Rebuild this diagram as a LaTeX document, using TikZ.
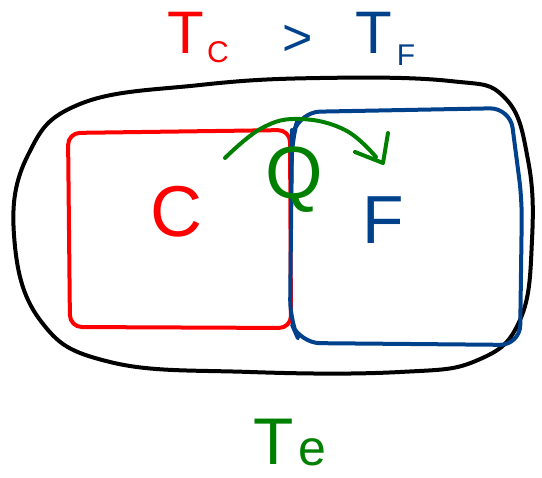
\documentclass[tikz,border=0pt]{standalone}
\usepackage{fontspec}
\setmainfont{Liberation Sans}
\definecolor{pred}{RGB}{255,0,0}
\definecolor{pblue}{RGB}{0,65,140}
\definecolor{pgreen}{RGB}{0,128,0}
\begin{document}
\begin{tikzpicture}[x=1pt,y=-1pt,
  pen/.style={line width=4pt,line cap=round,line join=round},
  lbl/.style={inner sep=0pt}]
\useasboundingbox (0,0) rectangle (542,478);
% outer environment
\draw[pen,black] plot[smooth cycle,tension=0.7] coordinates {
  (14,235) (28,155) (80,104) (200,85) (320,78) (450,81) (505,98)
  (528,160) (532,240) (520,320) (478,360) (400,372) (250,372)
  (110,362) (40,320)};
% red box
\draw[pen,pred,rounded corners=12pt] (68,133) -- (290,130) -- (291,328) -- (70,327) -- cycle;
% blue box
\draw[pen,pblue,rounded corners=20pt] (292,138) -- (300,112) -- (510,108) -- (522,200) -- (520,345) -- (300,343) -- (290,320) -- cycle;
\draw[pen,pblue] (292,130) -- (291,200);
% heat arrow
\draw[pen,pgreen] plot[smooth,tension=0.7] coordinates {(225,158) (262,128) (300,119) (345,130) (376,157)};
\draw[pen,pgreen] (355,152) -- (383,163) -- (388,133);
% labels
\node[lbl,pred,font=\fontsize{60}{60}\selectfont] (tc) at (186,33) {T};
\node[lbl,pred,font=\fontsize{30}{30}\selectfont] (tcs) at (218,52) {C};
\node[lbl,pblue,font=\fontsize{52}{52}\selectfont] (gt) at (298,40) {>};
\node[lbl,pblue,font=\fontsize{60}{60}\selectfont] (tf) at (374,33) {T};
\node[lbl,pblue,font=\fontsize{30}{30}\selectfont] (tfs) at (406,55) {F};
\node[lbl,pred,font=\fontsize{72}{72}\selectfont] (c) at (176,212) {C};
\node[lbl,pblue,font=\fontsize{68}{68}\selectfont] (f) at (383,220) {F};
\node[lbl,pgreen,font=\fontsize{74}{74}\selectfont] (q) at (294,180) {Q};
\node[lbl,pgreen,font=\fontsize{66}{66}\selectfont] (te) at (274,442) {T};
\node[lbl,pgreen,font=\fontsize{50}{50}\selectfont] (tes) at (312,452) {e};
\end{tikzpicture}
\end{document}
